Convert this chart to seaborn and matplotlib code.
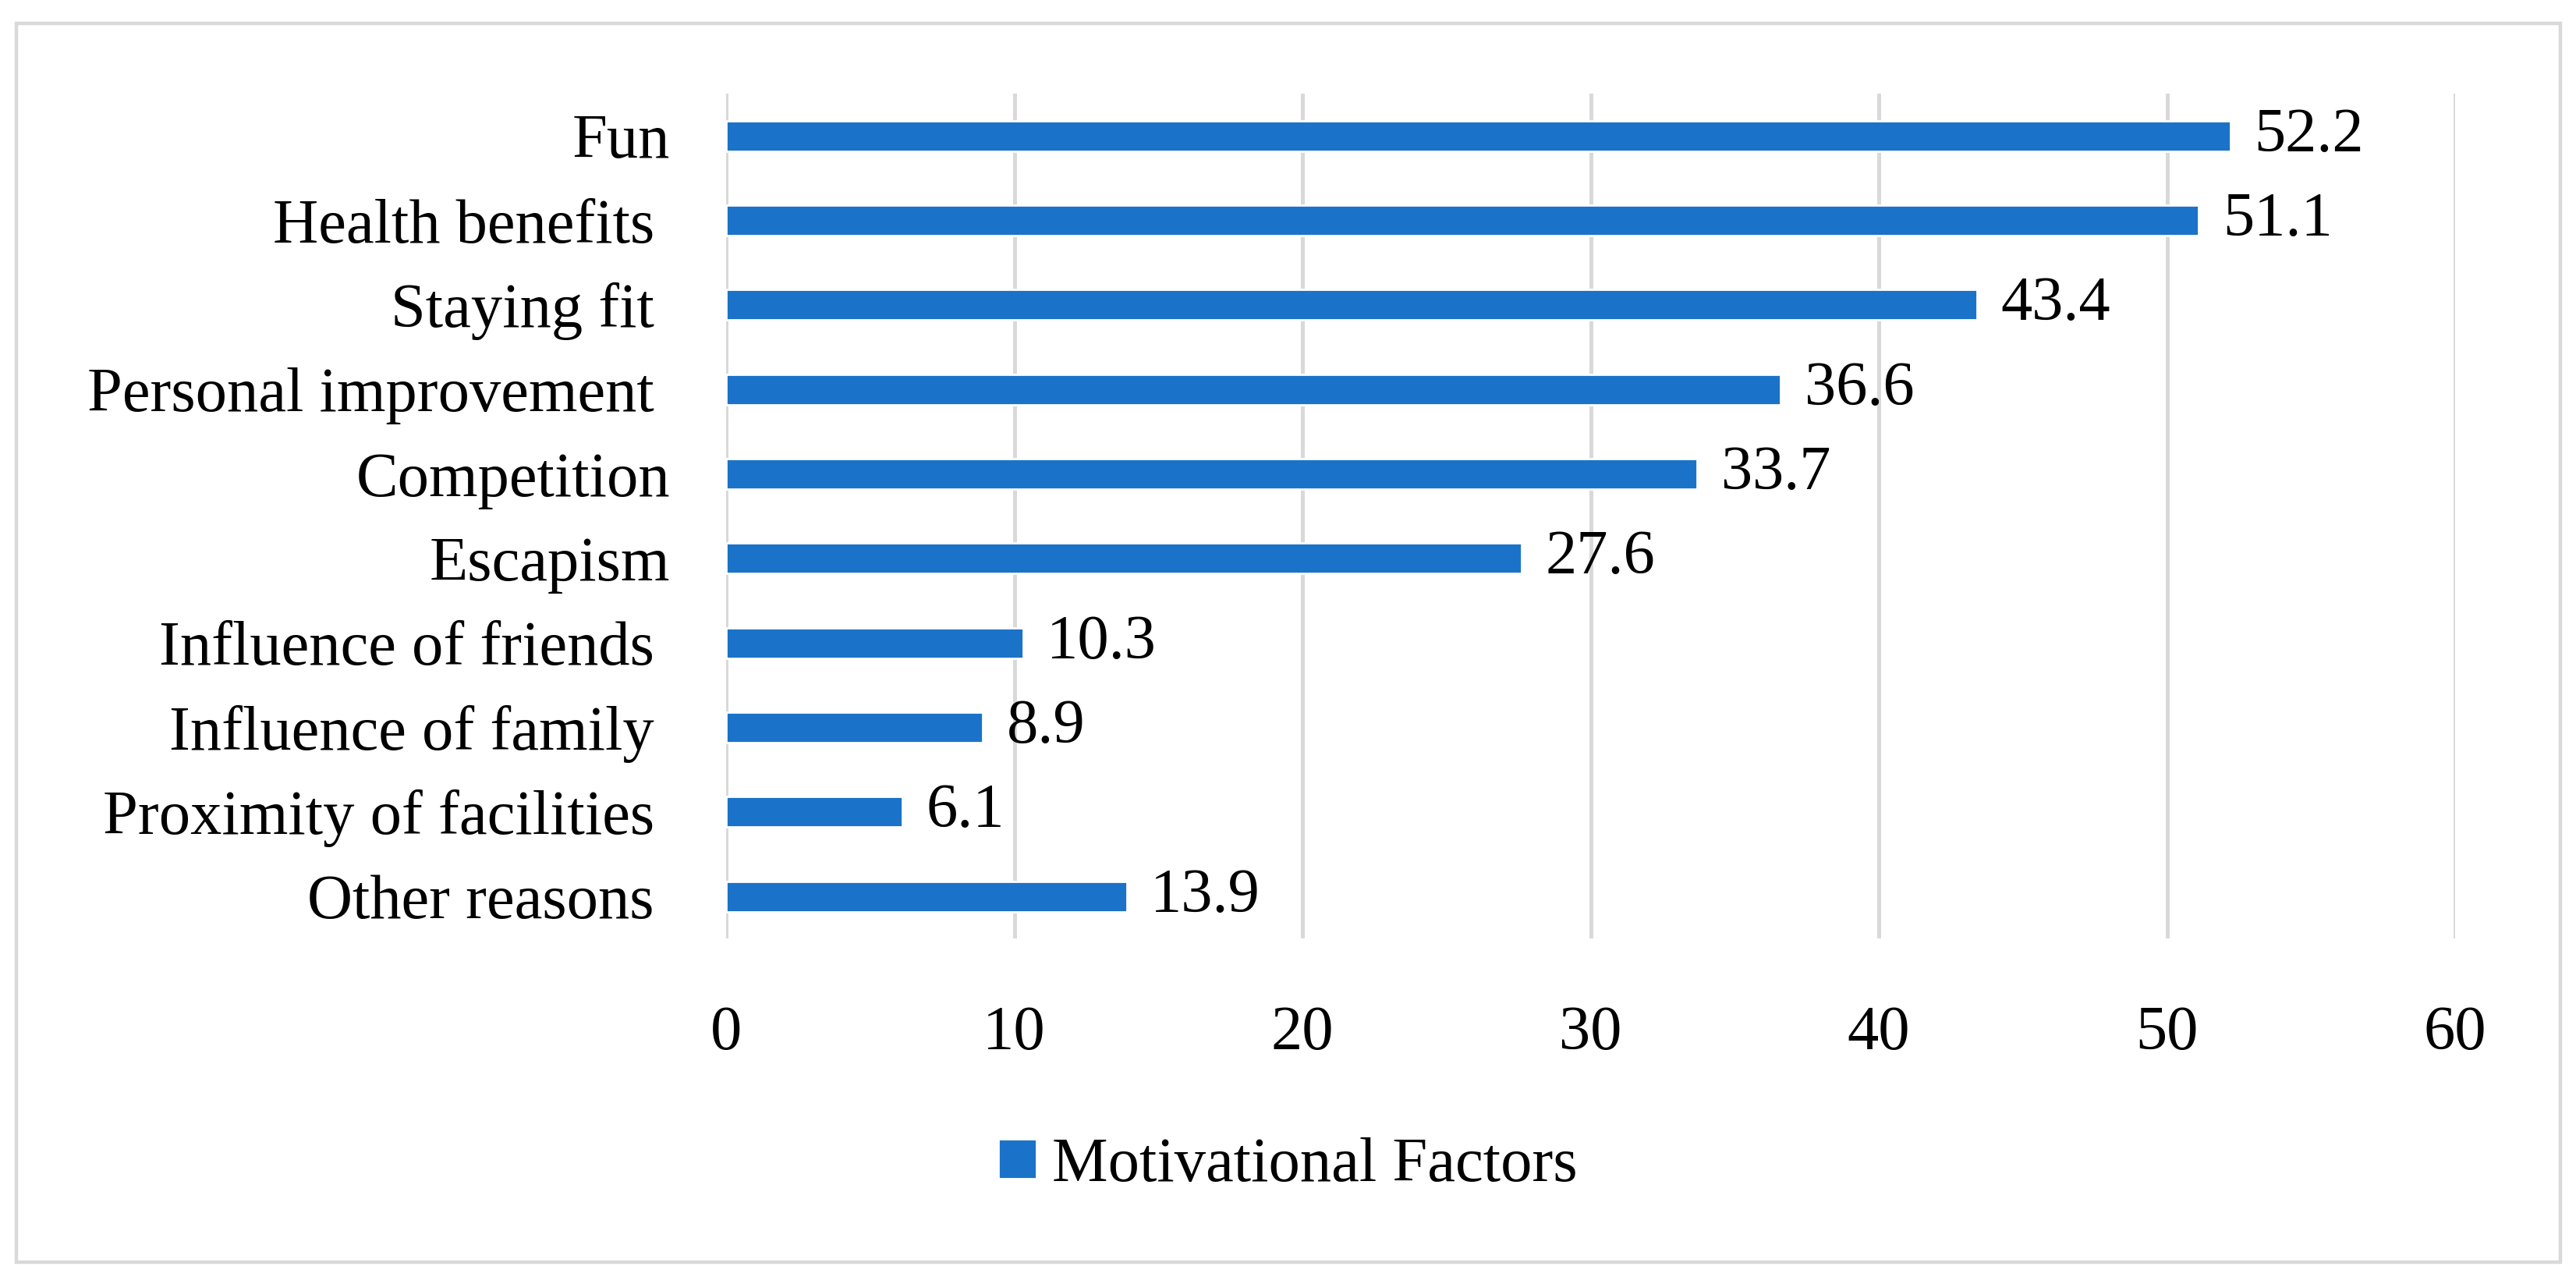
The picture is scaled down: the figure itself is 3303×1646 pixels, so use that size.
import numpy as np
import pandas as pd
import matplotlib
matplotlib.use("Agg")
import matplotlib.pyplot as plt
import seaborn as sns

# chart data
categories = ["Fun", "Health benefits ", "Staying fit ", "Personal improvement ",
              "Competition", "Escapism", "Influence of friends ",
              "Influence of family ", "Proximity of facilities ", "Other reasons "]
values = [52.2, 51.1, 43.4, 36.6, 33.7, 27.6, 10.3, 8.9, 6.1, 13.9]
series_name = "Motivational Factors"
x_ticks = [0, 10, 20, 30, 40, 50, 60]

df = pd.DataFrame({"Factor": categories, "Percent": values})

sns.set_style("white")
plt.rcParams['font.family'] = ['Liberation Serif', 'DejaVu Serif']
plt.rcParams['text.color'] = 'black'
plt.rcParams['xtick.color'] = 'black'
plt.rcParams['ytick.color'] = 'black'

bar_color = "#1a73c8"
grid_color = "#d9d9d9"
fs = 29

fig = plt.figure(figsize=(16.515, 8.23), dpi=200)
ax = fig.add_axes([0.2819, 0.269, 0.9531 - 0.2819, 0.927 - 0.269])

sns.barplot(data=df, x="Percent", y="Factor", orient="h", color=bar_color,
            width=0.36, saturation=1, label=series_name, ax=ax)
if ax.get_legend() is not None:
    ax.get_legend().remove()

ax.set_xlim(0, 60)
ax.set_xticks(x_ticks)
ax.set_xlabel("")
ax.set_ylabel("")
ax.grid(axis="x", color=grid_color, linewidth=1.8)
ax.grid(axis="y", visible=False)
ax.set_axisbelow(True)
for s in ax.spines.values():
    s.set_visible(False)
ax.tick_params(axis="x", labelsize=fs, pad=31, length=0)
ax.tick_params(axis="y", labelsize=fs, pad=26, length=0)

ax.bar_label(ax.containers[0], fmt="%.1f", padding=11, fontsize=fs)

handles, labels = ax.get_legend_handles_labels()
fig.legend(handles, labels, loc="center", bbox_to_anchor=(0.5, 0.092),
           frameon=False, fontsize=fs, handlelength=0.6, handleheight=0.6,
           handletextpad=0.25)

# outer frame
frame = plt.Rectangle((0.0064, 0.017), 0.994 - 0.0064, 0.982 - 0.017,
                      transform=fig.transFigure, fill=False,
                      edgecolor=grid_color, linewidth=1.6)
fig.patches.append(frame)

fig.savefig("out.png", dpi=200)
